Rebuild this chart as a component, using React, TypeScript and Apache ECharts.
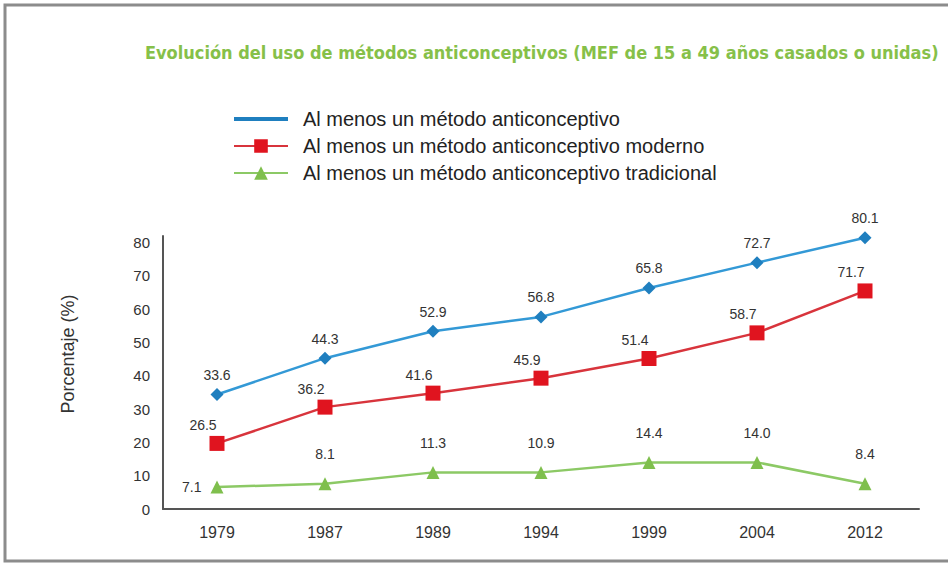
import React, { useEffect, useRef } from "react";
import * as echarts from "echarts";

const categories = ["1979", "1987", "1989", "1994", "1999", "2004", "2012"];
// positions of the marks as drawn
const totalValues = [34.4, 45.3, 53.4, 57.7, 66.4, 74.0, 81.5];
const modernValues = [19.7, 30.6, 34.8, 39.3, 45.2, 52.9, 65.5];
const traditionalValues = [6.6, 7.6, 11.0, 11.0, 14.0, 14.0, 7.6];
// printed value labels
const totalLabels = ["33.6", "44.3", "52.9", "56.8", "65.8", "72.7", "80.1"];
const modernLabels = ["26.5", "36.2", "41.6", "45.9", "51.4", "58.7", "71.7"];
const traditionalLabels = ["7.1", "8.1", "11.3", "10.9", "14.4", "14.0", "8.4"];

const seriesNames = [
  "Al menos un método anticonceptivo",
  "Al menos un método anticonceptivo moderno",
  "Al menos un método anticonceptivo tradicional",
];
const titleText =
  "Evolución del uso de métodos anticonceptivos (MEF de 15 a 49 años casados o unidas)";
const yAxisName = "Porcentaje (%)";

export default function App() {
  const ref = useRef<HTMLDivElement>(null);
  useEffect(() => {
    if (!ref.current) return;
    const chart = echarts.init(ref.current, undefined, { renderer: "svg" });
    const font = "Liberation Sans, Arial, sans-serif";
    const labelStyle = { color: "#333", fontSize: 14, fontFamily: font };
    chart.setOption({
      animation: false,
      backgroundColor: "#fff",
      title: {
        text: titleText,
        left: 140,
        top: 38,
        textStyle: {
          color: "#86c049",
          fontSize: 18,
          fontWeight: "bold",
          fontFamily: "Liberation Sans Narrow, Arial Narrow, DejaVu Sans Condensed, sans-serif",
        },
      },
      graphic: [
        {
          type: "rect",
          shape: { x: 5, y: 5, width: 1000, height: 556 },
          style: { fill: "none", stroke: "#8c8c8c", lineWidth: 3 },
          silent: true,
        },
        {
          type: "text",
          x: 68,
          y: 354,
          rotation: Math.PI / 2,
          silent: true,
          style: {
            text: yAxisName,
            align: "center",
            verticalAlign: "middle",
            fill: "#333",
            fontSize: 18,
            fontFamily: font,
          },
        },
      ],
      legend: {
        orient: "vertical",
        left: 228,
        top: 104,
        itemWidth: 54,
        itemHeight: 17,
        itemGap: 7,
        textStyle: { color: "#222", fontSize: 20, fontFamily: font, padding: [0, 0, 0, 10] },
        data: [
          { name: seriesNames[0], icon: "path://M0 0H100V7H0Z" },
          { name: seriesNames[1] },
          { name: seriesNames[2] },
        ],
      },
      grid: { left: 163, right: 29, top: 236, bottom: 55 },
      xAxis: {
        type: "category",
        data: categories,
        boundaryGap: true,
        axisLine: { lineStyle: { color: "#555", width: 2 } },
        axisTick: { show: false },
        axisLabel: { color: "#333", fontSize: 16, fontFamily: font, margin: 15 },
      },
      yAxis: {
        type: "value",
        min: 0,
        max: 82,
        interval: 10,
        axisLine: { show: true, lineStyle: { color: "#555", width: 2 } },
        axisTick: { show: false },
        splitLine: { show: false },
        axisLabel: { color: "#333", fontSize: 15, fontFamily: font, margin: 13, showMaxLabel: false },
      },
      series: [
        {
          name: seriesNames[0],
          type: "line",
          clip: false,
          data: totalValues,
          symbol: "diamond",
          symbolSize: 13,
          itemStyle: { color: "#1f7fbf" },
          lineStyle: { color: "#3399d6", width: 2.5 },
          label: {
            show: true,
            position: "top",
            distance: 6,
            ...labelStyle,
            formatter: (p: any) => totalLabels[p.dataIndex],
          },
        },
        {
          name: seriesNames[1],
          type: "line",
          clip: false,
          data: modernValues,
          symbol: "rect",
          symbolSize: 15,
          itemStyle: { color: "#e0141f" },
          lineStyle: { color: "#d8343c", width: 2.5 },
          label: {
            show: true,
            position: "top",
            distance: 4,
            offset: [-14, 0],
            ...labelStyle,
            formatter: (p: any) => modernLabels[p.dataIndex],
          },
        },
        {
          name: seriesNames[2],
          type: "line",
          clip: false,
          data: traditionalValues.map((v, i) =>
            i === 0
              ? { value: v, label: { position: "left", distance: 9 } }
              : { value: v }
          ),
          symbol: "triangle",
          symbolSize: 13,
          itemStyle: { color: "#7fbf4d" },
          lineStyle: { color: "#8cc965", width: 2.5 },
          label: {
            show: true,
            position: "top",
            distance: 16,
            ...labelStyle,
            formatter: (p: any) => traditionalLabels[p.dataIndex],
          },
        },
      ],
    });
    return () => chart.dispose();
  }, []);
  return (
    <div
      ref={ref}
      style={{ position: "fixed", left: 0, top: 0, width: 948, height: 564 }}
    />
  );
}
